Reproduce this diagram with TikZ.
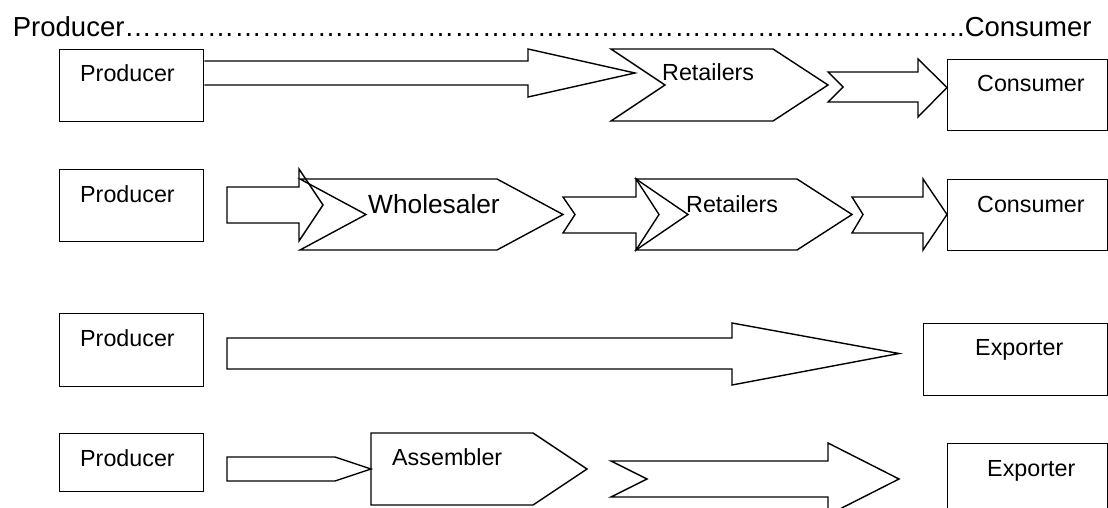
\documentclass[tikz,border=0pt]{standalone}
\usepackage{fontspec}
\setmainfont{Liberation Sans}
\begin{document}
\begin{tikzpicture}[x=1pt,y=-1pt,
  shp/.style={draw=black,line width=1.4pt,line join=miter},
  box/.style={shp,rectangle,inner sep=0pt,anchor=north west},
  lbl/.style={anchor=base west,inner sep=0pt,font=\fontsize{23.3}{28}\selectfont},
  big/.style={anchor=base west,inner sep=0pt,font=\fontsize{26.3}{31}\selectfont},
  ttl/.style={anchor=base west,inner sep=0pt,font=\fontsize{27.5}{33}\selectfont}]
\path[use as bounding box] (0,0) rectangle (1108,508);
\clip (0,0) rectangle (1108,508);

% title
\node[ttl] (title) at (12.7,36.5) {Producer\foreach \i in {1,...,30}{…}..Consumer};

% ---------- row 1
\node[box,minimum width=144,minimum height=72] (p1) at (59,49) {};
\node[lbl] (p1t) at (80,82) {Producer};
\draw[shp] (p1.east |- 0,61) -- (528,61) -- (528,49) -- (635,73) -- (528,97) -- (528,85) -- (p1.east |- 0,85);
\draw[shp] (611,49) -- (773,49) -- (828,85) -- (773,121) -- (611,121) -- (665,85) -- cycle;
\node[lbl] (r1t) at (662,81) {Retailers};
\draw[shp] (828,72) -- (918,72) -- (918,59) -- (947,87.5) -- (918,117) -- (918,102) -- (828,102) -- (843,87) -- cycle;
\node[box,minimum width=160,minimum height=71] (c1) at (947,59) {};
\node[lbl] (c1t) at (977,92) {Consumer};

% ---------- row 2
\node[box,minimum width=144,minimum height=72] (p2) at (59,169) {};
\node[lbl] (p2t) at (80,202) {Producer};
\draw[shp] (227,187) -- (299,187) -- (299,169) -- (323,205) -- (299,241) -- (299,223) -- (227,223) -- cycle;
\draw[shp] (300,179) -- (497,179) -- (563,214.5) -- (497,250) -- (300,250) -- (366,214.5) -- cycle;
\node[big] (w2t) at (368,213) {Wholesaler};
\draw[shp] (563,197) -- (636,197) -- (636,179) -- (659,214.5) -- (636,250) -- (636,233) -- (563,233) -- (575,214.5) -- cycle;
\draw[shp] (636,179) -- (797,179) -- (852,214.5) -- (797,250) -- (636,250) -- (688,214.5) -- cycle;
\node[lbl] (r2t) at (686,212) {Retailers};
\draw[shp] (852,197) -- (923,197) -- (923,179) -- (947,214.5) -- (923,250) -- (923,233) -- (852,233) -- (863,214.5) -- cycle;
\node[box,minimum width=160,minimum height=71] (c2) at (947,179) {};
\node[lbl] (c2t) at (977,212) {Consumer};

% ---------- row 3
\node[box,minimum width=144,minimum height=73] (p3) at (59,313) {};
\node[lbl] (p3t) at (80,346) {Producer};
\draw[shp] (227,338) -- (732,338) -- (732,323) -- (899,353.5) -- (732,385) -- (732,369) -- (227,369) -- cycle;
\node[box,minimum width=184,minimum height=72] (e3) at (923,323) {};
\node[lbl] (e3t) at (975,355) {Exporter};

% ---------- row 4
\node[box,minimum width=144,minimum height=58] (p4) at (59,433) {};
\node[lbl] (p4t) at (80,466) {Producer};
\draw[shp] (227,457) -- (335,457) -- (371,469) -- (335,481) -- (227,481) -- cycle;
\draw[shp] (371,433) -- (533,433) -- (587,469) -- (533,505) -- (371,505) -- cycle;
\node[lbl] (a4t) at (392,465) {Assembler};
\draw[shp] (611,461) -- (828,461) -- (828,443) -- (899,479) -- (828,515) -- (828,497) -- (611,497) -- (647,479) -- cycle;
\node[box,minimum width=160,minimum height=80] (e4) at (947,443) {};
\node[lbl] (e4t) at (987,476) {Exporter};
\end{tikzpicture}
\end{document}
